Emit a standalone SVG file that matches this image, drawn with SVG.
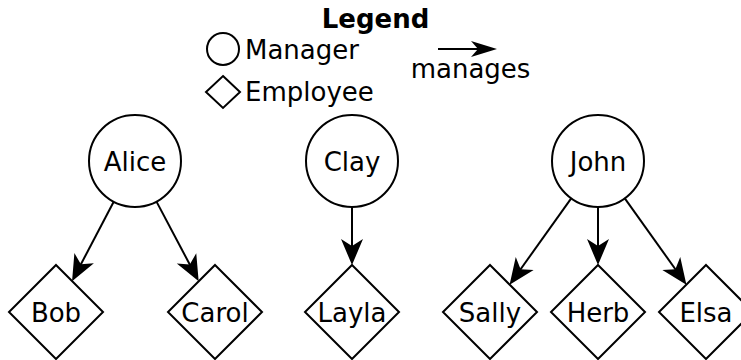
<svg xmlns="http://www.w3.org/2000/svg" width="741" height="360" viewBox="0 0 741 360">
<style>
text{font-family:"DejaVu Sans","Liberation Sans",sans-serif;font-size:26px;fill:#000}
.lbl{text-anchor:middle}
.shape{fill:#fff;stroke:#000;stroke-width:2}
.edge{fill:none;stroke:#000;stroke-width:2}
</style>
<defs>
<marker id="arr" markerUnits="userSpaceOnUse" viewBox="-27 -12 28 24" refX="-10" refY="0" markerWidth="28" markerHeight="24" orient="auto" overflow="visible">
<path d="M0,0 L-26,-11 L-19,0 L-26,11 Z" fill="#000"/>
</marker>
<marker id="arrs" markerUnits="userSpaceOnUse" viewBox="-27 -9 28 18" refX="-10" refY="0" markerWidth="28" markerHeight="18" orient="auto" overflow="visible">
<path d="M0,0 L-26,-8 L-19,0 L-26,8 Z" fill="#000"/>
</marker>
</defs>
<g id="legend">
<text x="375.5" y="28" class="lbl" style="font-weight:bold">Legend</text>
<circle cx="223" cy="49" r="16" class="shape"/>
<text x="245" y="59">Manager</text>
<polygon points="223,76 240,92 223,108 206,92" class="shape"/>
<text x="245" y="101">Employee</text>
<line x1="438" y1="49" x2="487" y2="49" class="edge" marker-end="url(#arrs)"/>
<text x="470.5" y="78" class="lbl">manages</text>
</g>
<g id="connectors">
<line x1="113.7" y1="201.8" x2="76.7" y2="272.3" class="edge" marker-end="url(#arr)"/>
<line x1="156.5" y1="201.6" x2="194" y2="272.5" class="edge" marker-end="url(#arr)"/>
<line x1="352" y1="207" x2="352" y2="255" class="edge" marker-end="url(#arr)"/>
<line x1="571.2" y1="198.4" x2="515.4" y2="276.5" class="edge" marker-end="url(#arr)"/>
<line x1="598" y1="207" x2="598" y2="255" class="edge" marker-end="url(#arr)"/>
<line x1="624.8" y1="198.4" x2="680.6" y2="276.5" class="edge" marker-end="url(#arr)"/>
</g>
<g id="node-alice"><circle cx="135" cy="161" r="46" class="shape"/><text x="135" y="171" class="lbl">Alice</text></g>
<g id="node-clay"><circle cx="352" cy="161" r="46" class="shape"/><text x="352" y="171" class="lbl">Clay</text></g>
<g id="node-john"><circle cx="598" cy="161" r="46" class="shape"/><text x="598" y="171" class="lbl">John</text></g>
<g id="node-bob"><polygon points="56,265 103,312 56,359 9,312" class="shape"/><text x="56" y="322" class="lbl">Bob</text></g>
<g id="node-carol"><polygon points="215,265 262,312 215,359 168,312" class="shape"/><text x="215" y="322" class="lbl">Carol</text></g>
<g id="node-layla"><polygon points="352,265 399,312 352,359 305,312" class="shape"/><text x="352" y="322" class="lbl">Layla</text></g>
<g id="node-sally"><polygon points="490,265 537,312 490,359 443,312" class="shape"/><text x="490" y="322" class="lbl">Sally</text></g>
<g id="node-herb"><polygon points="598,265 645,312 598,359 551,312" class="shape"/><text x="598" y="322" class="lbl">Herb</text></g>
<g id="node-elsa"><polygon points="706,265 753,312 706,359 659,312" class="shape"/><text x="706" y="322" class="lbl">Elsa</text></g>
</svg>
